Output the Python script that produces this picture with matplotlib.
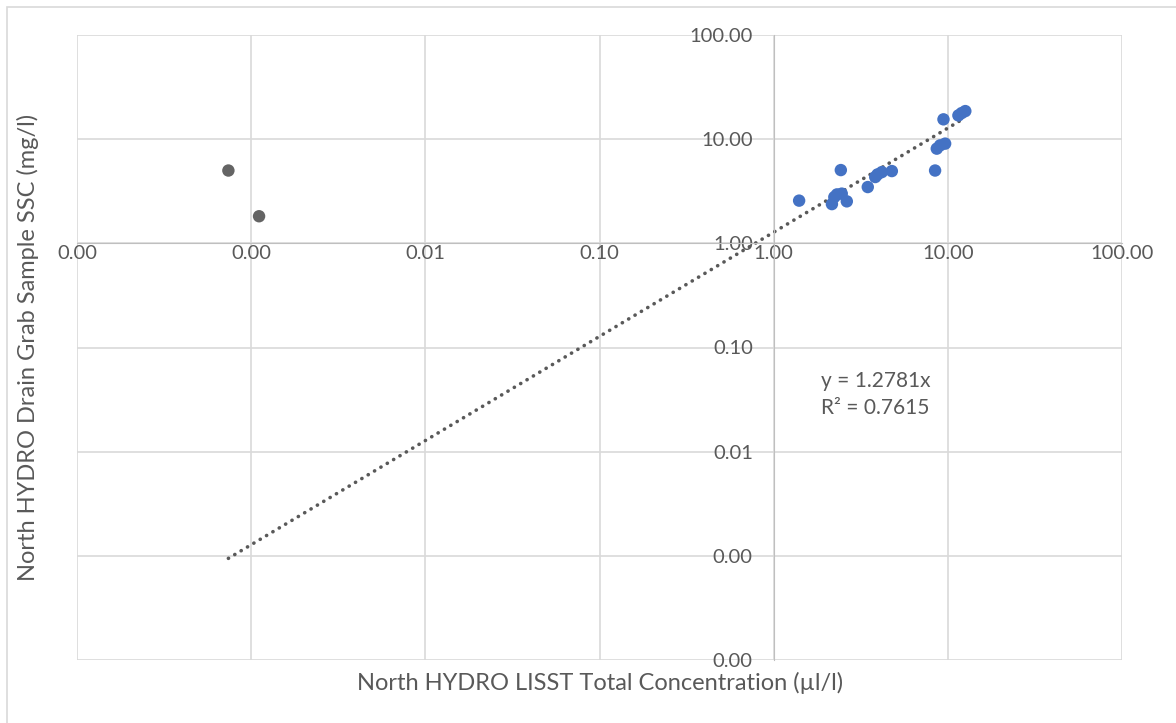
import numpy as np
import matplotlib
matplotlib.use('Agg')
import matplotlib.pyplot as plt
from matplotlib.ticker import FixedLocator, FormatStrFormatter, NullLocator
from matplotlib.patches import Rectangle

# data (log-log, axes crossing at 1,1)
x_gray = [0.00074, 0.00111]
y_gray = [5.0, 1.82]

x_blue = [1.40, 2.43, 2.16, 2.31, 2.46, 2.63, 2.23, 3.47, 3.95, 4.18, 4.77, 3.83,
          8.45, 8.64, 9.03, 9.65, 9.44, 11.5, 12.6, 12.0]
y_blue = [2.57, 5.05, 2.38, 2.95, 3.00, 2.53, 2.78, 3.47, 4.59, 4.83, 4.94, 4.33,
          5.0, 8.11, 8.72, 9.06, 15.5, 16.9, 18.6, 17.8]

slope = 1.2781
r2 = 0.7615
decades = [1e-4, 1e-3, 1e-2, 1e-1, 1, 10, 100]

txt = '#595959'
grid = '#d9d9d9'
plt.rcParams['font.family'] = ['Lato', 'DejaVu Sans']

fig = plt.figure(figsize=(11.76, 7.23), dpi=100)
ax = fig.add_axes([77 / 1176, 1 - 660 / 723, (1122 - 77) / 1176, (660 - 35) / 723])

ax.set_xscale('log')
ax.set_yscale('log')
ax.set_xlim(1e-4, 100)
ax.set_ylim(1e-4, 100)

for v in decades:
    ax.axvline(v, color=grid, lw=1.2, zorder=0)
    ax.axhline(v, color=grid, lw=1.2, zorder=0)

# axes cross at 1
for s in ['top', 'right']:
    ax.spines[s].set_visible(False)
ax.spines['left'].set_position(('data', 1))
ax.spines['bottom'].set_position(('data', 1))
ax.spines['left'].set_color('#bfbfbf')
ax.spines['bottom'].set_color('#bfbfbf')

ax.xaxis.set_major_locator(FixedLocator(decades))
ax.yaxis.set_major_locator(FixedLocator(decades))
ax.xaxis.set_minor_locator(NullLocator())
ax.yaxis.set_minor_locator(NullLocator())
ax.xaxis.set_major_formatter(FormatStrFormatter('%.2f'))
ax.yaxis.set_major_formatter(FormatStrFormatter('%.2f'))
ax.tick_params(axis='both', length=0, labelsize=14.5, labelcolor=txt)
ax.tick_params(axis='x', pad=1)
ax.tick_params(axis='y', pad=15)

# trendline y = 1.2781x over data range
xs = np.array(x_gray + x_blue)
tx = np.array([xs.min(), xs.max()])
ax.plot(tx, slope * tx, color=txt, lw=2.6, linestyle=(0, (0.05, 2.0)),
        dash_capstyle='round', zorder=2)

ax.scatter(x_gray, y_gray, s=80, color='#646464', edgecolors='none', zorder=3)
ax.scatter(x_blue, y_blue, s=80, color='#4472C4', edgecolors='none', zorder=3)

ax.text(1.86, 0.0352, f'y = {slope}x\nR² = {r2}', fontsize=15, color=txt,
        linespacing=1.45, va='center', ha='left')

fig.text(600 / 1176, 1 - 690 / 723, 'North HYDRO LISST Total Concentration (µl/l)',
         ha='center', va='baseline', fontsize=17, color=txt)
fig.text(28 / 1176, 1 - 347 / 723, 'North HYDRO Drain Grab Sample SSC (mg/l)',
         ha='center', va='center', rotation=90, fontsize=17, color=txt)

fig.patches.append(Rectangle((7 / 1176, -0.1), 1.2, 1 - 7 / 723 + 0.1,
                             transform=fig.transFigure, fill=False,
                             edgecolor=grid, lw=1.2))

fig.savefig('out.png', dpi=100)
